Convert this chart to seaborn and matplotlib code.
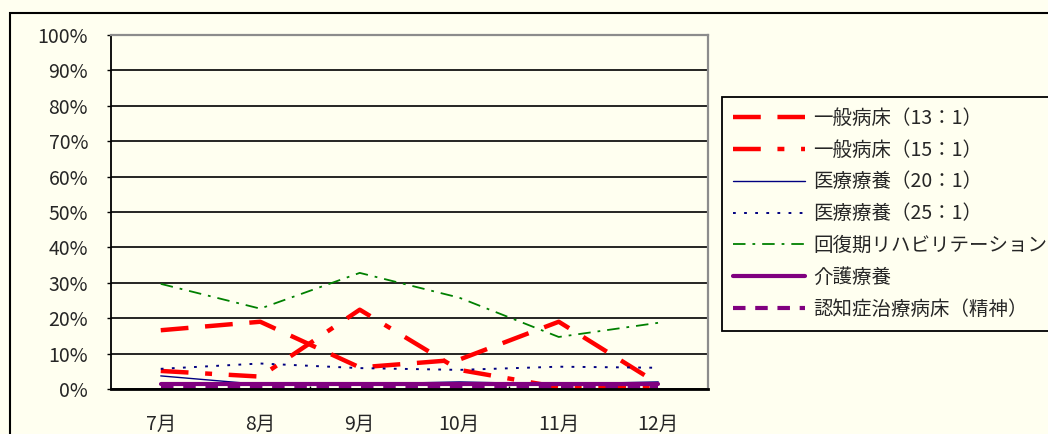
import matplotlib
matplotlib.use("Agg")
import matplotlib.pyplot as plt
from matplotlib.patches import Rectangle
from matplotlib.ticker import FuncFormatter, MultipleLocator
import seaborn as sns
import pandas as pd

# ---- data ----
months = ["7月", "8月", "9月", "10月", "11月", "12月"]
series_names = ["一般病床（13：1）", "一般病床（15：1）", "医療療養（20：1）",
                "医療療養（25：1）", "回復期リハビリテーション", "介護療養",
                "認知症治療病床（精神）"]
ippan_13 = [16.6, 19.0, 6.1, 8.3, 19.0, 1.5]
ippan_15 = [5.1, 3.5, 22.4, 5.4, 0.5, 0.5]
iryo_20 = [3.7, 1.3, 1.4, 2.0, 1.4, 2.0]
iryo_25 = [5.7, 7.2, 5.9, 5.4, 6.3, 6.0]
kaifuku = [29.7, 22.7, 32.8, 25.8, 14.7, 18.7]
kaigo = [1.3, 1.3, 1.3, 1.3, 1.3, 1.3]
ninchi = [0.4, 0.4, 0.4, 0.4, 0.4, 0.4]
all_values = [ippan_13, ippan_15, iryo_20, iryo_25, kaifuku, kaigo, ninchi]

# ---- styles ----
colors = ["#FF0000", "#FF0000", "#000080", "#000080", "#008000", "#800080", "#800080"]
widths = [3.2, 3.2, 1.0, 1.4, 1.3, 3.0, 3.0]
styles = ["dash13", "dash15", "solid", "dot", "ddot", "solid", "pdash"]
patterns = {
    "dash13": (0, (20, 12)),
    "dash15": (0, (20, 12, 5, 12)),
    "solid": "-",
    "dot": (0, (2, 6)),
    "ddot": (0, (9, 5, 2, 5)),
    "pdash": (0, (9, 7)),
}

bg = "#FFFFF0"
sns.set_theme(style="white")
plt.rcParams["font.family"] = ["Noto Sans CJK JP", "DejaVu Sans"]
plt.rcParams["lines.scale_dashes"] = False

fig = plt.figure(figsize=(10.48, 4.34), dpi=100, facecolor=bg)
ax = fig.add_axes([111 / 1048, 1 - 389 / 434, 597 / 1048, 354 / 434])
ax.set_facecolor(bg)

rows = []
for name, vals in zip(series_names, all_values):
    for i, v in enumerate(vals):
        rows.append({"series": name, "idx": i, "value": v})
df = pd.DataFrame(rows)

for k, name in enumerate(series_names):
    sub = df[df["series"] == name]
    sns.lineplot(data=sub, x="idx", y="value", ax=ax, color=colors[k],
                 lw=widths[k], linestyle=patterns[styles[k]], label=name,
                 zorder=3 + k, legend=False)

ax.set_xlim(-0.5, 5.5)
ax.set_ylim(0, 100)
ax.set_xlabel("")
ax.set_ylabel("")
ax.yaxis.set_major_locator(MultipleLocator(10))
ax.yaxis.set_major_formatter(FuncFormatter(lambda v, p: f"{int(round(v))}%"))
ax.set_xticks(range(len(months)))
ax.set_xticklabels(months)
ax.set_xticks([i + 0.5 for i in range(0, 5)], minor=True)
ax.grid(axis="y", color="black", lw=1.2, zorder=1)
ax.grid(axis="x", visible=False)
ax.tick_params(axis="y", which="major", length=3, width=1, color="black",
               direction="out", pad=13.5, labelsize=14, left=True)
ax.tick_params(axis="x", which="major", length=0, pad=18, labelsize=14)
ax.tick_params(axis="x", which="minor", length=2.5, width=1, color="black",
               direction="in", bottom=True)
ax.spines["left"].set_color("black")
ax.spines["left"].set_linewidth(1.3)
ax.spines["bottom"].set_color("black")
ax.spines["bottom"].set_linewidth(2.0)
for s in ["right", "top"]:
    ax.spines[s].set_color("#8C8C8C")
    ax.spines[s].set_linewidth(1.6)
for sp in ax.spines.values():
    sp.set_zorder(20)

handles, labels = ax.get_legend_handles_labels()
leg = ax.legend(handles, labels, loc="upper left",
                bbox_to_anchor=(722 / 1048, 1 - 97 / 434),
                bbox_transform=fig.transFigure, borderaxespad=0,
                fontsize=14, handlelength=3.7, handletextpad=0.45,
                labelspacing=0.56, borderpad=0.55, frameon=True,
                fancybox=False, facecolor=bg, edgecolor="black", framealpha=1)
leg.get_frame().set_linewidth(1.3)

fig.add_artist(Rectangle((10 / 1048, -0.1), 1.2, 1.1 - 13 / 434,
                         transform=fig.transFigure, fill=False,
                         ec="black", lw=1.5))

fig.savefig("out.png", dpi=100, facecolor=bg)
